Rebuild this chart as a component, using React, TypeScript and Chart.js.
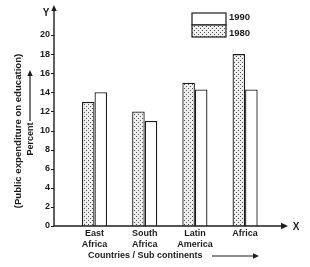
import React, { useEffect, useRef } from 'react';
import { Chart, registerables } from 'chart.js';
Chart.register(...registerables);

const categories: string[][] = [['East', 'Africa'], ['South', 'Africa'], ['Latin', 'America'], ['Africa']];
const values1980 = [13, 12, 15, 18];
const values1990 = [14, 11, 14.3, 14.3];
const yTickValues = [0, 2, 4, 6, 8, 10, 12, 14, 16, 18, 20];
const seriesLabels = ['1980', '1990'];
const xTitle = 'Countries / Sub continents';
const yTitle = '(Public expenditure on education)';
const yUnit = 'Percent';

const FONT = '"Liberation Sans", Arial, sans-serif';
const INK = '#1c1c1c';

function makePattern(): CanvasPattern | string {
  const c = document.createElement('canvas');
  c.width = 4;
  c.height = 4;
  const g = c.getContext('2d');
  if (!g) return '#ccc';
  g.fillStyle = '#efefef';
  g.fillRect(0, 0, 4, 4);
  g.fillStyle = '#505050';
  g.fillRect(0, 0, 1, 1);
  g.fillRect(2, 2, 1, 1);
  const p = g.createPattern(c, 'repeat');
  return p || '#ccc';
}

function arrowHead(ctx: CanvasRenderingContext2D, x: number, y: number, dir: 'up' | 'right', size = 5) {
  ctx.beginPath();
  if (dir === 'up') {
    ctx.moveTo(x, y);
    ctx.lineTo(x - size * 0.45, y + size);
    ctx.lineTo(x + size * 0.45, y + size);
  } else {
    ctx.moveTo(x, y);
    ctx.lineTo(x - size, y - size * 0.45);
    ctx.lineTo(x - size, y + size * 0.45);
  }
  ctx.closePath();
  ctx.fill();
}

export default function App() {
  const ref = useRef<HTMLCanvasElement | null>(null);

  useEffect(() => {
    if (!ref.current) return;
    const pattern = makePattern();

    const decor = {
      id: 'decor',
      afterDraw(chart: any) {
        const ctx: CanvasRenderingContext2D = chart.ctx;
        const y = chart.scales.y;
        const axisX = 54;
        const baseY = y.getPixelForValue(0);
        ctx.save();
        ctx.strokeStyle = INK;
        ctx.fillStyle = INK;
        ctx.lineWidth = 1.4;
        // y axis
        ctx.beginPath();
        ctx.moveTo(axisX, baseY);
        ctx.lineTo(axisX, 9);
        ctx.stroke();
        arrowHead(ctx, axisX, 5, 'up', 6);
        // x axis
        ctx.beginPath();
        ctx.moveTo(axisX, baseY);
        ctx.lineTo(283, baseY);
        ctx.stroke();
        arrowHead(ctx, 288, baseY, 'right', 7);
        // tick marks
        ctx.lineWidth = 1;
        yTickValues.forEach((v) => {
          const py = Math.round(y.getPixelForValue(v)) + 0.5;
          ctx.beginPath();
          ctx.moveTo(axisX - 3, py);
          ctx.lineTo(axisX, py);
          ctx.stroke();
        });
        // axis letters
        ctx.font = `bold 10px ${FONT}`;
        ctx.textAlign = 'center';
        ctx.textBaseline = 'middle';
        ctx.fillText('Y', 46, 13);
        ctx.fillText('X', 296, baseY + 1);
        // x title
        ctx.font = `bold 9px ${FONT}`;
        ctx.textAlign = 'left';
        ctx.fillText(xTitle, 88, 256);
        ctx.lineWidth = 1.2;
        ctx.beginPath();
        ctx.moveTo(212, 256);
        ctx.lineTo(254, 256);
        ctx.stroke();
        arrowHead(ctx, 259, 256, 'right', 6);
        // y title
        ctx.save();
        ctx.translate(18, 131);
        ctx.rotate(-Math.PI / 2);
        ctx.font = `bold 9.6px ${FONT}`;
        ctx.textAlign = 'center';
        ctx.fillText(yTitle, 0, 0);
        ctx.restore();
        ctx.save();
        ctx.translate(31, 139);
        ctx.rotate(-Math.PI / 2);
        ctx.font = `bold 9px ${FONT}`;
        ctx.textAlign = 'center';
        ctx.fillText(yUnit, 0, 0);
        ctx.restore();
        ctx.beginPath();
        ctx.moveTo(30, 121);
        ctx.lineTo(30, 76);
        ctx.stroke();
        arrowHead(ctx, 30, 70, 'up', 6);
        // legend
        const lx = 192, lw = 34, ly = 13, lh = 12;
        ctx.lineWidth = 1.2;
        ctx.fillStyle = '#ffffff';
        ctx.fillRect(lx, ly, lw, lh);
        ctx.strokeRect(lx, ly, lw, lh);
        ctx.fillStyle = pattern as any;
        ctx.fillRect(lx, ly + lh, lw, lh);
        ctx.strokeRect(lx, ly + lh, lw, lh);
        ctx.fillStyle = INK;
        ctx.font = `bold 9.5px ${FONT}`;
        ctx.textAlign = 'left';
        ctx.fillText(seriesLabels[1], lx + lw + 3, ly + 4);
        ctx.fillText(seriesLabels[0], lx + lw + 3, ly + lh + 8);
        ctx.restore();
      },
    };

    const chart = new Chart(ref.current, {
      type: 'bar',
      data: {
        labels: categories as any,
        datasets: [
          {
            label: seriesLabels[0],
            data: values1980,
            backgroundColor: pattern as any,
            borderColor: INK,
            borderWidth: 1.3,
            borderSkipped: 'bottom',
          },
          {
            label: seriesLabels[1],
            data: values1990,
            backgroundColor: '#ffffff',
            borderColor: INK,
            borderWidth: 1.3,
            borderSkipped: 'bottom',
          },
        ],
      },
      options: {
        responsive: false,
        animation: false,
        events: [],
        layout: { padding: { top: 35, right: 39.8, bottom: 0, left: 0 } },
        datasets: { bar: { barPercentage: 1, categoryPercentage: 0.5 } },
        plugins: { legend: { display: false }, tooltip: { enabled: false } },
        scales: {
          x: {
            type: 'category',
            grid: { display: false, drawTicks: false, tickLength: 0 },
            border: { display: false },
            ticks: {
              padding: 2,
              color: INK,
              font: { family: FONT, size: 9, weight: 'bold', lineHeight: 1.2 },
              maxRotation: 0,
              autoSkip: false,
            },
            afterFit(scale: any) {
              scale.height = 41;
            },
          },
          y: {
            type: 'linear',
            min: 0,
            max: 20,
            grid: { display: false, drawTicks: false, tickLength: 0 },
            border: { display: false },
            afterBuildTicks(scale: any) {
              scale.ticks = yTickValues.map((v) => ({ value: v }));
            },
            ticks: {
              padding: 19.4,
              color: INK,
              font: { family: FONT, size: 9, weight: 'bold' },
            },
            afterFit(scale: any) {
              scale.width = 69.4;
            },
          },
        },
      } as any,
      plugins: [decor],
    });
    return () => chart.destroy();
  }, []);

  return (
    <div style={{ position: 'absolute', left: 0, top: 0, width: 310, height: 267, background: '#fff' }}>
      <canvas ref={ref} width={310} height={267} style={{ width: 310, height: 267, display: 'block' }} />
    </div>
  );
}
